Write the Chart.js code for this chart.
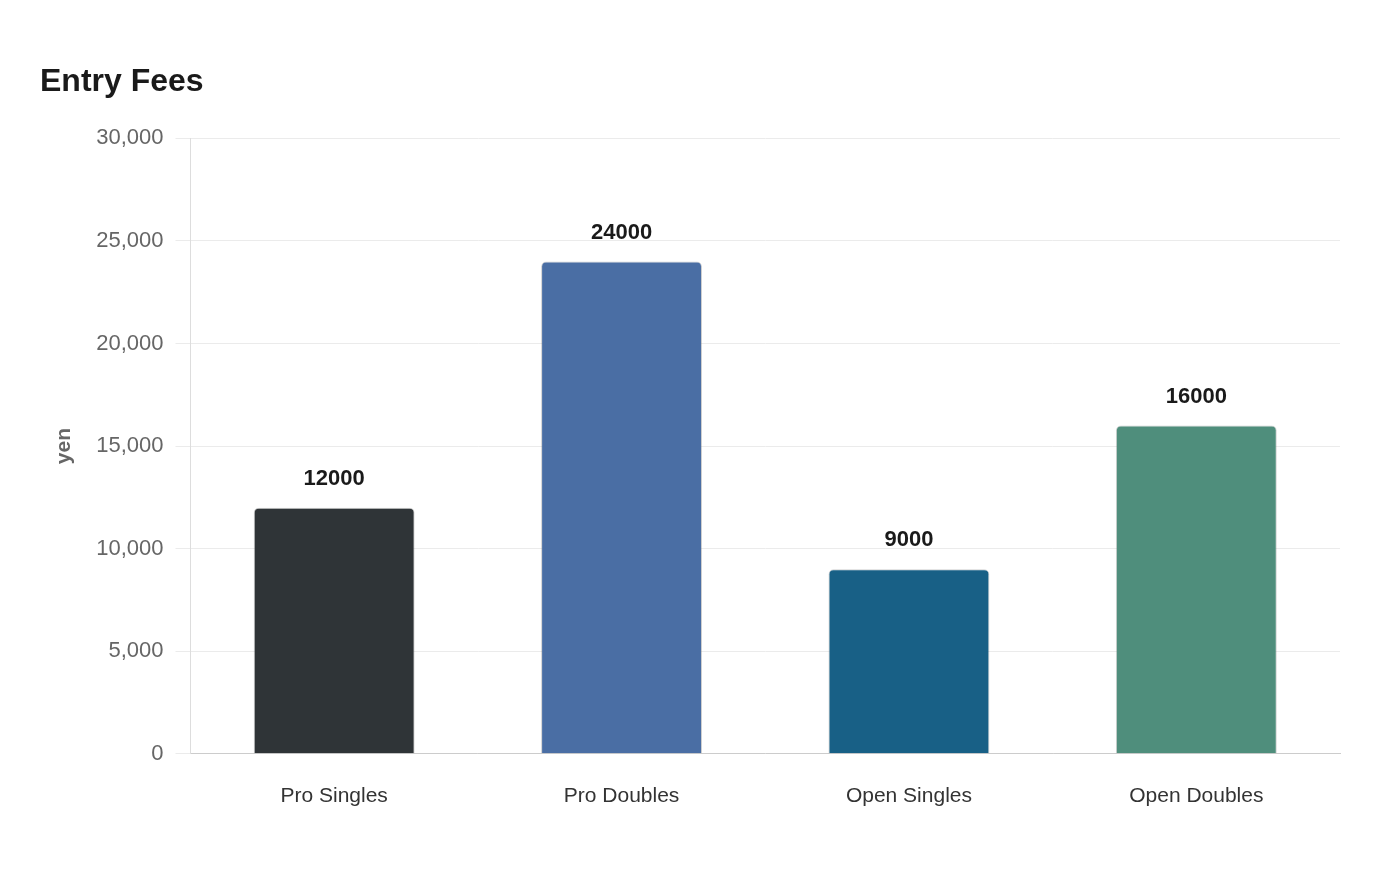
<!DOCTYPE html>
<html>
<head>
<meta charset="utf-8">
<script src="https://cdn.jsdelivr.net/npm/chart.js@4"></script>
<style>
html,body{margin:0;padding:0;background:#fff;}
#wrap{width:1400px;height:880px;}
</style>
</head>
<body>
<div id="wrap"><canvas id="c" width="1400" height="880"></canvas></div>
<script>
const categories = ["Pro Singles", "Pro Doubles", "Open Singles", "Open Doubles"];
const fees = [12000, 24000, 9000, 16000];
const barColors = ["#2f3437", "#4a6ea4", "#186086", "#4f8e7c"];
const yTicks = [0, 5000, 10000, 15000, 20000, 25000, 30000];

const FONT = "'Liberation Sans', Arial, Helvetica, sans-serif";

const valueLabels = {
  id: 'valueLabels',
  afterDatasetsDraw(chart) {
    const ctx = chart.ctx;
    const meta = chart.getDatasetMeta(0);
    ctx.save();
    ctx.font = "bold 22px " + FONT;
    ctx.fillStyle = "#1a1a1a";
    ctx.textAlign = "center";
    ctx.textBaseline = "middle";
    meta.data.forEach((bar, i) => {
      ctx.fillText(String(chart.data.datasets[0].data[i]), bar.x, bar.y - 29);
    });
    ctx.restore();
  }
};

new Chart(document.getElementById('c'), {
  type: 'bar',
  data: {
    labels: categories,
    datasets: [{
      data: fees,
      backgroundColor: barColors,
      borderColor: "rgba(120,120,120,0.35)",
      borderWidth: 1,
      borderRadius: 5,
      borderSkipped: 'bottom',
      barPercentage: 0.7,
      categoryPercentage: 0.8
    }]
  },
  options: {
    responsive: false,
    animation: false,
    devicePixelRatio: 1,
    layout: { padding: { left: 40, right: 60, top: 63, bottom: 41 } },
    plugins: {
      legend: { display: false },
      tooltip: { enabled: false },
      title: {
        display: true,
        text: "Entry Fees",
        align: 'start',
        color: "#1a1a1a",
        font: { family: FONT, size: 32, weight: 'bold', lineHeight: 1.2 },
        padding: { top: 0, bottom: 37 }
      }
    },
    scales: {
      x: {
        grid: { display: false, drawTicks: false },
        border: { display: true, color: "#cccccc", width: 1 },
        ticks: { color: "#333333", font: { family: FONT, size: 21 }, padding: 30 }
      },
      y: {
        min: 0,
        max: 30000,
        afterBuildTicks(scale) { scale.ticks = yTicks.map(v => ({ value: v })); },
        grid: { color: "#ebebeb", lineWidth: 1, tickLength: 15, drawTicks: true },
        border: { display: true, color: "#dddddd", width: 1 },
        ticks: {
          color: "#666666",
          font: { family: FONT, size: 22 },
          padding: 12,
          callback: v => Number(v).toLocaleString('en-US')
        },
        title: {
          display: true,
          text: "yen",
          color: "#666666",
          font: { family: FONT, size: 21, weight: 'bold', lineHeight: 1.2 },
          padding: { top: 12, bottom: 7 }
        }
      }
    }
  },
  plugins: [valueLabels]
});
</script>
</body>
</html>
